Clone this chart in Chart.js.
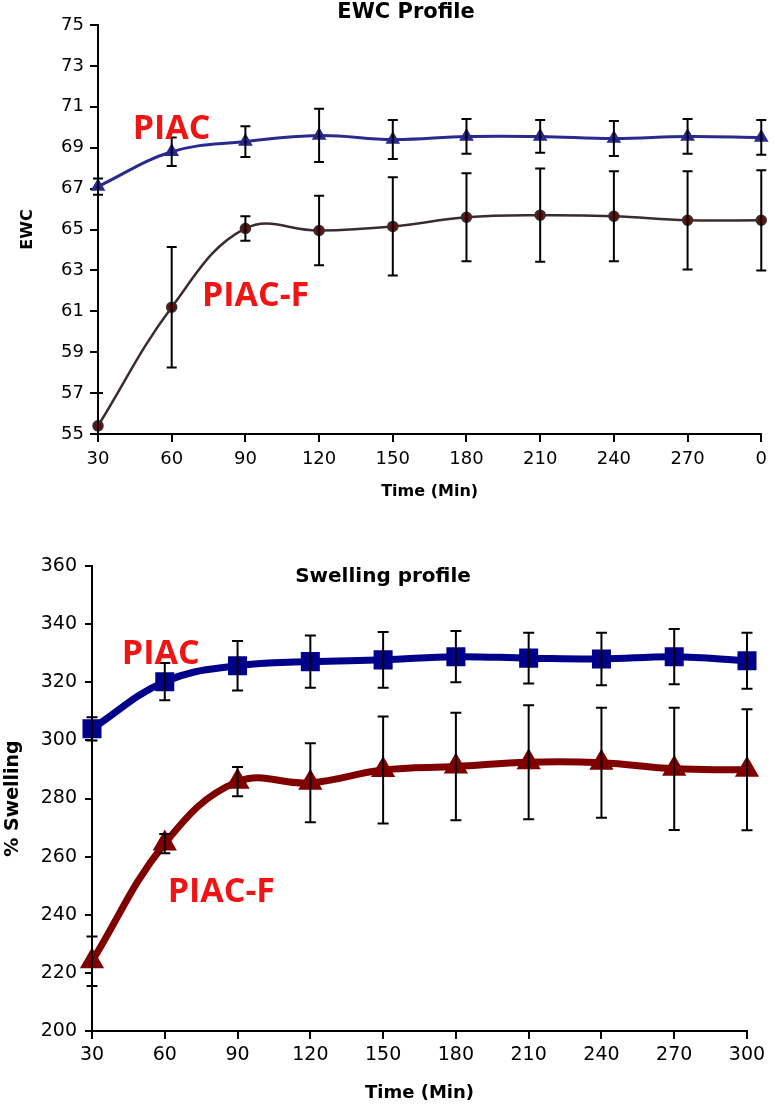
<!DOCTYPE html>
<html>
<head>
<meta charset="utf-8">
<script src="https://cdn.jsdelivr.net/npm/chart.js@4.4.1/dist/chart.umd.min.js"></script>
<style>
  html, body { margin: 0; padding: 0; background: #fff; }
  #wrap { position: relative; width: 774px; height: 1109px; }
  .box { position: absolute; left: 0; width: 774px; }
  #ewcBox { top: 0; height: 510px; }
  #swBox { top: 520px; height: 589px; }
</style>
</head>
<body>
<div id="wrap">
  <div class="box" id="ewcBox"><canvas id="ewcChart"></canvas></div>
  <div class="box" id="swBox"><canvas id="swellingChart"></canvas></div>
</div>
<script>
// time points (the EWC plot really says "0" for the last one)
const ewcTimeLabels = ['30', '60', '90', '120', '150', '180', '210', '240', '270', '0'];
const swellingTimeLabels = ['30', '60', '90', '120', '150', '180', '210', '240', '270', '300'];

// EWC profile
const ewcPiac = [67.1, 68.8, 69.3, 69.6, 69.4, 69.55, 69.55, 69.45, 69.55, 69.5];
const ewcPiacErr = [0.4, 0.7, 0.75, 1.3, 0.95, 0.85, 0.8, 0.85, 0.85, 0.85];
const ewcPiacF = [55.4, 61.2, 65.05, 64.95, 65.15, 65.6, 65.7, 65.65, 65.45, 65.45];
const ewcPiacFErr = [1.6, 2.95, 0.6, 1.7, 2.4, 2.15, 2.28, 2.2, 2.4, 2.45];

// Swelling profile
const swellingPiac = [304, 320.2, 325.7, 327.1, 327.7, 328.8, 328.3, 328.0, 328.8, 327.4];
const swellingPiacErr = [4, 6.4, 8.5, 9, 9.6, 8.8, 8.7, 9, 9.5, 9.6];
const swellingPiacF = [224, 264.5, 285.8, 285.4, 289.8, 291, 292.5, 292.3, 290.2, 289.9];
const swellingPiacFErr = [8.5, 3.3, 5, 13.6, 18.4, 18.5, 19.6, 18.9, 21, 20.8];

const AXIS_FONT = 'DejaVu Sans';
const RED_FONT = '"Open Sans"';

// error bars (+/-) drawn from each dataset's errorBars array
const errorBarPlugin = {
  id: 'errorBars',
  afterDatasetsDraw(chart, args, opts) {
    const { ctx, chartArea, scales: { x, y } } = chart;
    const cap = opts.cap || 5;
    ctx.save();
    ctx.beginPath();
    ctx.rect(chartArea.left - 20, chartArea.top, chartArea.width + 40, chartArea.height);
    ctx.clip();
    ctx.strokeStyle = '#000';
    ctx.lineWidth = opts.width || 2;
    chart.data.datasets.forEach(ds => {
      if (!ds.errorBars) return;
      ds.data.forEach((v, j) => {
        const px = x.getPixelForValue(j);
        const top = y.getPixelForValue(v + ds.errorBars[j]);
        const bot = y.getPixelForValue(v - ds.errorBars[j]);
        ctx.beginPath();
        ctx.moveTo(px, top); ctx.lineTo(px, bot);
        ctx.moveTo(px - cap, top); ctx.lineTo(px + cap, top);
        ctx.moveTo(px - cap, bot); ctx.lineTo(px + cap, bot);
        ctx.stroke();
      });
    });
    ctx.restore();
  }
};

// chart title + red series labels
const textPlugin = {
  id: 'chartTexts',
  afterDraw(chart, args, opts) {
    const { ctx, scales: { x, y } } = chart;
    ctx.save();
    (opts.items || []).forEach(t => {
      ctx.font = t.font;
      ctx.fillStyle = t.color || '#000';
      ctx.textAlign = t.align || 'left';
      ctx.textBaseline = 'middle';
      const px = t.px !== undefined ? t.px : x.getPixelForValue(t.xv);
      const py = t.py !== undefined ? t.py : y.getPixelForValue(t.yv);
      ctx.fillText(t.text, px, py);
    });
    ctx.restore();
  }
};

function axisGrid(tickLength) {
  return { display: true, drawOnChartArea: false, drawTicks: true, tickLength: tickLength, color: '#000', lineWidth: 2 };
}

function buildOptions(cfg) {
  return {
    responsive: true,
    maintainAspectRatio: false,
    animation: false,
    layout: { padding: cfg.padding },
    plugins: {
      legend: { display: false },
      tooltip: { enabled: false },
      errorBars: { cap: cfg.cap, width: 2 },
      chartTexts: { items: cfg.texts }
    },
    scales: {
      x: {
        type: 'category',
        offset: false,
        grid: axisGrid(8),
        border: { color: '#000', width: 2 },
        ticks: { color: '#000', font: { family: AXIS_FONT, size: cfg.tickSize }, padding: cfg.xTickPad, maxRotation: 0, autoSkip: false },
        title: { display: true, text: 'Time (Min)', color: '#000', font: { family: AXIS_FONT, size: cfg.xTitleSize, weight: 'bold' }, padding: { top: 0, bottom: cfg.xTitlePad } },
        afterFit: s => { s.height = cfg.xHeight; }
      },
      y: {
        min: cfg.yMin,
        max: cfg.yMax,
        grid: axisGrid(cfg.yTickLen),
        border: { color: '#000', width: 2 },
        ticks: { stepSize: cfg.yStep, color: '#000', font: { family: AXIS_FONT, size: cfg.tickSize }, padding: cfg.yTickPad },
        title: { display: true, text: cfg.yTitle, color: '#000', font: { family: AXIS_FONT, size: cfg.yTitleSize, weight: 'bold' }, padding: { top: cfg.yTitlePad, bottom: 0 } },
        afterFit: s => { s.width = cfg.yWidth; }
      }
    }
  };
}

// EWC profile chart
new Chart(document.getElementById('ewcChart'), {
  type: 'line',
  data: {
    labels: ewcTimeLabels,
    datasets: [{
      label: 'PIAC',
      data: ewcPiac,
      errorBars: ewcPiacErr,
      borderColor: '#2a2a8e',
      backgroundColor: '#000080',
      borderWidth: 3,
      pointStyle: 'triangle',
      pointRadius: 5.5,
      tension: 0.4,
      clip: false
    }, {
      label: 'PIAC-F',
      data: ewcPiacF,
      errorBars: ewcPiacFErr,
      borderColor: '#3a2c2c',
      backgroundColor: '#7a0000',
      borderWidth: 2.5,
      pointStyle: 'circle',
      pointRadius: 4.5,
      tension: 0.4,
      clip: false
    }]
  },
  options: buildOptions({
    padding: { top: 25, right: 10, left: 0, bottom: 0 },
    cap: 5,
    tickSize: 18,
    xTickPad: 7,
    xTitleSize: 16,
    xTitlePad: 9,
    xHeight: 76,
    yMin: 55, yMax: 75, yStep: 2,
    yTickLen: 8, yTickPad: 6,
    yTitle: 'EWC', yTitleSize: 16, yTitlePad: 18,
    yWidth: 98,
    texts: [
      { text: 'EWC Profile', px: 406, py: 13, align: 'center', font: 'bold 21px "DejaVu Sans"' },
      { text: 'PIAC', xv: 0.47, yv: 69.9, color: '#f01414', font: 'bold 34px ' + RED_FONT },
      { text: 'PIAC-F', xv: 1.41, yv: 61.75, color: '#f01414', font: 'bold 34px ' + RED_FONT }
    ]
  }),
  plugins: [errorBarPlugin, textPlugin]
});

// Swelling profile chart
new Chart(document.getElementById('swellingChart'), {
  type: 'line',
  data: {
    labels: swellingTimeLabels,
    datasets: [{
      label: 'PIAC',
      data: swellingPiac,
      errorBars: swellingPiacErr,
      borderColor: '#00008b',
      backgroundColor: '#00008b',
      borderWidth: 7,
      pointStyle: 'rect',
      pointRadius: 8.5,
      tension: 0.4,
      clip: false
    }, {
      label: 'PIAC-F',
      data: swellingPiacF,
      errorBars: swellingPiacFErr,
      borderColor: '#800000',
      backgroundColor: '#800000',
      borderWidth: 7,
      pointStyle: 'triangle',
      pointRadius: 7,
      tension: 0.4,
      clip: false
    }]
  },
  options: buildOptions({
    padding: { top: 46, right: 27, left: 0, bottom: 0 },
    cap: 5.5,
    tickSize: 19,
    xTickPad: 5,
    xTitleSize: 18,
    xTitlePad: 5,
    xHeight: 78,
    yMin: 200, yMax: 360, yStep: 20,
    yTickLen: 7, yTickPad: 8,
    yTitle: '% Swelling', yTitleSize: 19, yTitlePad: 2,
    yWidth: 92,
    texts: [
      { text: 'Swelling profile', px: 383, py: 57, align: 'center', font: 'bold 20px "DejaVu Sans"' },
      { text: 'PIAC', xv: 0.41, yv: 329.7, color: '#f01414', font: 'bold 34px ' + RED_FONT },
      { text: 'PIAC-F', xv: 1.04, yv: 247.8, color: '#f01414', font: 'bold 34px ' + RED_FONT }
    ]
  }),
  plugins: [errorBarPlugin, textPlugin]
});
</script>
</body>
</html>
